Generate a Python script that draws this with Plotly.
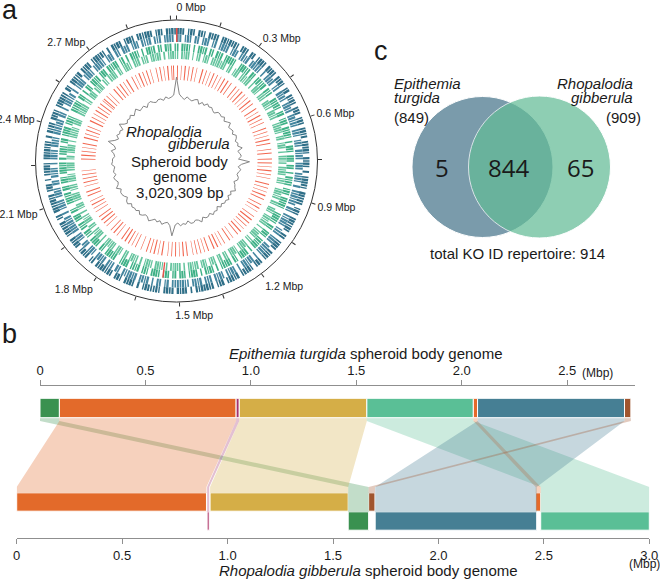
import plotly.graph_objects as go

W, H = 660, 579
def px(x): return x / W
def py(y): return 1 - y / H

# ---------------- DATA ----------------
GENOME_KBP = 3020.309
BIN_KBP = 10
# gene occupancy per 10-kbp bin (0-9 = tenths of bin covered), read/estimated from panel a
BLUE_OUTER = "".join([
    "8970596087", "5096870795", "9685079608", "7059860979", "6087950690",
    "8596078705", "9607958068", "7950869507", "0698750986", "8705960797",
    "5960870589", "7086950796", "0597860958", "8609750869", "7958060795",
    "9086970586", "6795080697", "8059706958", "9680750869", "5079680597",
    "8690570986", "7958069705", "0679850796", "9586070958", "6097850689",
    "8760950796", "5908697058", "9685070969", "7059860785", "8970596087", "96"])
BLUE_INNER = "".join([
    "7805960870", "6970580697", "8059706859", "0796850607", "9680570968",
    "5079680795", "8607950586", "0958706970", "7695080869", "5870960758",
    "9605870697", "0786950608", "8597060795", "7069580867", "0958706596",
    "8670950780", "6095870969", "7580690758", "0869705960", "8705960879",
    "6958070596", "8069750870", "9586060795", "7098650968", "5870960706",
    "9658070589", "7069850697", "8506970860", "9780596085", "6907580697", "80"])
GREEN_OUTER = "".join([
    "7096850607", "9580760958", "0697850069", "8570960785", "6908570096",
    "7850690587", "0968750609", "8507960870", "6095870596", "0786950068",
    "9750860795", "0685970608", "7960580796", "8507069580", "6079850697",
    "0860795068", "9705860957", "6089750086", "7960580697", "8056907580",
    "6970850069", "7580960785", "0697580906", "8750690587", "9068750096",
    "7850960708", "6079580697", "0865970580", "7096850607", "9580760958", "06"])
GREEN_INNER = "".join([
    "6085970506", "8059607869", "5970680597", "0685790608", "9507860795",
    "6089570068", "7950680597", "0608957086", "9705860069", "7580960795",
    "0695870506", "8970560798", "6058970680", "9607850596", "0875960708",
    "6958070569", "8067950807", "5960870596", "0785960608", "9570680795",
    "6080597068", "9705860697", "5086970580", "6978050696", "8507960085",
    "9680570697", "0859607508", "6970850697", "5086907580", "6959708067", "95"])
RED_TRACK = "".join([
    "5030604050", "3006040305", "0403050604", "0050306040", "3060400503",
    "0604030050", "4030605003", "0500406030", "6040300504", "0306050040",
    "5030040605", "0403060500", "3050040306", "0600503040", "4030050603",
    "0504030060", "3060405003", "0040305060", "5003060400", "3050604003",
    "0406030050", "6003050404", "0300000506", "0403050060", "4050300604",
    "0306040503", "5040300605", "0503060040", "3060405030", "0405030604", "50"])
RRNA_BLUE_MBP = [0.001]
RRNA_GREEN_MBP = [1.566]
# GC skew every 20 kbp (px offset from the baseline ring)
GC_SKEW = [21, 4, 1, -1, 2, 0, -1, 1, 2, -2,
           1, -1, 2, 0, 1, -1, -2, 1, 1, 0,
           2, -1, 1, 3, -1, 0, 1, -1, 2, 1,
           -1, 1, 0, 4, -1, 1, 2, -1, 10, 2,
           -1, 2, 0, -1, 1, 1, -2, 0, 1, 3,
           -1, 1, -1, 2, 0, 1, -1, 1, -2, 1,
           0, 2, -1, 1, 1, -1, 3, 0, -1, 1,
           1, -2, 1, 0, 2, -1, 1, 12, 2, -1,
           0, 2, -1, 1, -1, 1, 3, 0, -1, 1,
           2, -1, 1, 0, 1, -1, 2, 1, -2, 0,
           1, 1, -1, 3, 0, -1, 1, 2, -1, 1,
           0, -1, 2, 1, 1, -1, 0, 3, -1, 1,
           8, 2, -1, 2, 0, 1, -1, 5, 1, -1,
           1, 0, 2, -1, 1, 3, -1, 0, 1, -2,
           1, 2, 0, -1, 1, 1, -1, 2, 0, 1,
           3]
GC_STEP_MBP = 0.02
RING_TICKS_MBP = [round(k * 0.15, 2) for k in range(21)]
NB = "\u00a0"
RING_LABELS = [NB * 10 + "0 Mbp", "", "0.3 Mbp", "", "0.6 Mbp", "", "0.9 Mbp", "", "1.2 Mbp", "",
               NB * 10 + "1.5 Mbp", "", "1.8 Mbp", "", "2.1 Mbp", "", "2.4 Mbp", "", "2.7 Mbp", "", ""]

# panel b synteny blocks (Mbp)
TOP_START = [0.000, 0.092, 0.930, 0.945, 1.550, 2.055, 2.075, 2.772]
TOP_END = [0.092, 0.930, 0.945, 1.550, 2.055, 2.075, 2.772, 2.802]
BOT_START = [1.572, 0.000, 0.903, 0.917, 2.485, 2.461, 1.700, 1.669]
BOT_END = [1.669, 0.900, 0.913, 1.572, 3.000, 2.485, 2.466, 1.699]
BOT_ROW = [2, 1, 2, 1, 2, 1, 2, 1]
BLOCK_COLORS = ["#3a9150", "#e36a2a", "#a4336f", "#d5ae47", "#5abf96", "#e56a2a", "#467f94", "#a0552e"]
TOP_TICKS = [0, 0.5, 1.0, 1.5, 2.0, 2.5]
TOP_TICKTEXT = ["0", "0.5", "1.0", "1.5", "2.0", "2.5"]
BOT_TICKS = [0, 0.5, 1.0, 1.5, 2.0, 2.5, 3.0]
BOT_TICKTEXT = ["0", "0.5", "1.0", "1.5", "2.0", "2.5", "3.0"]

# Venn (KO IDs)
VENN_ET_ONLY, VENN_SHARED, VENN_RG_ONLY = 5, 844, 65
VENN_ET_TOTAL, VENN_RG_TOTAL, VENN_ALL = 849, 909, 914

# ---------------- FIGURE ----------------
fig = go.Figure()

def deg(mbp):
    return mbp * 1000.0 / GENOME_KBP * 360.0

def ring(s, r0, r1, color):
    th, wd = [], []
    for i, ch in enumerate(s):
        d = int(ch)
        if d == 0:
            continue
        th.append(deg((i + 0.5) * BIN_KBP / 1000))
        wd.append(deg(d / 10 * BIN_KBP / 1000))
    return go.Barpolar(theta=th, r=[r1 - r0] * len(th), base=[r0] * len(th), width=wd,
                       marker=dict(color=color, line=dict(width=0)),
                       hoverinfo="skip", showlegend=False)

fig.add_trace(ring(BLUE_OUTER, 126.5, 133, "#2f6f88"))
fig.add_trace(ring(BLUE_INNER, 119, 126.5, "#4587a0"))
fig.add_trace(ring(GREEN_OUTER, 110, 117.5, "#3fb187"))
fig.add_trace(ring(GREEN_INNER, 102, 110, "#64c49e"))
fig.add_trace(ring(RED_TRACK, 81, 95.5, "#f2664f"))
fig.add_trace(go.Barpolar(theta=[deg(p) for p in RRNA_BLUE_MBP], r=[14], base=[119],
                          width=[deg(0.006)], marker=dict(color="#e8504a", line=dict(width=0)),
                          hoverinfo="skip", showlegend=False))
fig.add_trace(go.Barpolar(theta=[deg(p) for p in RRNA_GREEN_MBP], r=[15.5], base=[102],
                          width=[deg(0.006)], marker=dict(color="#e8504a", line=dict(width=0)),
                          hoverinfo="skip", showlegend=False))
GC_BASE = 63
gc_theta = [deg(i * GC_STEP_MBP) for i in range(len(GC_SKEW))] + [360]
gc_r = [GC_BASE + v for v in GC_SKEW] + [GC_BASE + GC_SKEW[0]]
fig.add_trace(go.Scatterpolar(theta=gc_theta, r=gc_r, mode="lines",
                              line=dict(color="#858585", width=1),
                              hoverinfo="skip", showlegend=False))

# ---- panel b ----
PX_PER_MBP = 210.87
BOT_ORIGIN_PX, TOP_ORIGIN_PX = 16.7, 40.0
TOP_SHIFT = (TOP_ORIGIN_PX - BOT_ORIGIN_PX) / PX_PER_MBP
Y_TOP_BAR, Y_TOP_BOTTOM, Y_TOP_V = 408, 417.7, 421
Y_BOT_V = 487
ROW_CENTER = {1: 502, 2: 521}
ROW_TOP = {1: 492.8, 2: 511.8}

def rgba(hexc, a):
    h = hexc.lstrip("#")
    return f"rgba({int(h[0:2],16)},{int(h[2:4],16)},{int(h[4:6],16)},{a})"

for i in range(len(TOP_START)):
    a1, a2 = TOP_START[i] + TOP_SHIFT, TOP_END[i] + TOP_SHIFT
    b1, b2 = BOT_START[i], BOT_END[i]
    yb = ROW_TOP[BOT_ROW[i]]
    xs = [a1, a2, a2, b2, b2, b1, b1, a1, a1]
    ys = [Y_TOP_BOTTOM, Y_TOP_BOTTOM, Y_TOP_V, Y_BOT_V, yb, yb, Y_BOT_V, Y_TOP_V, Y_TOP_BOTTOM]
    fig.add_trace(go.Scatter(x=xs, y=ys, xaxis="x", yaxis="y", fill="toself",
                             fillcolor=rgba(BLOCK_COLORS[i], 0.31), mode="lines",
                             line=dict(width=0, color=rgba(BLOCK_COLORS[i], 0)),
                             hoverinfo="skip", showlegend=False))

fig.add_trace(go.Bar(orientation="h", xaxis="x2", yaxis="y",
                     base=TOP_START, x=[e - s for s, e in zip(TOP_START, TOP_END)],
                     y=[Y_TOP_BAR] * len(TOP_START), width=[19.4] * len(TOP_START),
                     marker=dict(color=BLOCK_COLORS, line=dict(color="white", width=1)),
                     hoverinfo="skip", showlegend=False))
bot_colors = list(BLOCK_COLORS)
bot_colors[2] = "#b23b6e"
fig.add_trace(go.Bar(orientation="h", xaxis="x", yaxis="y",
                     base=BOT_START, x=[e - s for s, e in zip(BOT_START, BOT_END)],
                     y=[ROW_CENTER[r] for r in BOT_ROW], width=[18.4] * len(BOT_START),
                     marker=dict(color=bot_colors, line=dict(color="white", width=1)),
                     hoverinfo="skip", showlegend=False))

AX_COL = "#8f8f8f"
TXT = "#1a1a1a"
FONT = "Liberation Sans, Arial, sans-serif"

fig.update_layout(
    width=W, height=H, margin=dict(l=0, r=0, t=0, b=0, autoexpand=False), autosize=False,
    paper_bgcolor="white", plot_bgcolor="rgba(0,0,0,0)",
    font=dict(family=FONT, color=TXT), barmode="overlay", showlegend=False,
    polar=dict(
        domain=dict(x=[px(35.5), px(317.5)], y=[py(302), py(20)]),
        bgcolor="rgba(0,0,0,0)", barmode="overlay", hole=0,
        radialaxis=dict(visible=False, range=[0, 141]),
        angularaxis=dict(rotation=90, direction="clockwise", tickmode="array",
                         tickvals=[deg(t) for t in RING_TICKS_MBP], ticktext=RING_LABELS,
                         ticks="outside", ticklen=4, tickcolor="#333", tickwidth=1,
                         showline=True, linecolor="#333", linewidth=1, showgrid=False,
                         tickfont=dict(size=10.5, color=TXT, family=FONT)),
    ),
    xaxis=dict(domain=[px(BOT_ORIGIN_PX), px(BOT_ORIGIN_PX + 3.0 * PX_PER_MBP)], range=[0, 3.0],
               anchor="y", side="bottom", showline=True, linecolor=AX_COL, linewidth=1,
               ticks="outside", ticklen=5, tickcolor=AX_COL, tickmode="array",
               tickvals=BOT_TICKS, ticktext=BOT_TICKTEXT, showgrid=False, zeroline=False,
               tickfont=dict(size=13, color=TXT), automargin=False),
    xaxis2=dict(domain=[px(TOP_ORIGIN_PX), px(TOP_ORIGIN_PX + 2.823 * PX_PER_MBP)], range=[0, 2.823],
                anchor="y", side="top", showline=True, linecolor=AX_COL, linewidth=1,
                ticks="outside", ticklen=5, tickcolor=AX_COL, tickmode="array",
                tickvals=TOP_TICKS, ticktext=TOP_TICKTEXT, showgrid=False, zeroline=False,
                tickfont=dict(size=13, color=TXT), automargin=False),
    yaxis=dict(domain=[py(538.3), py(386)], range=[538.3, 386], visible=False),
)

# ---- Venn (panel c) ----
L_COL = "#7a9bab"
R_COL = "#63bc97"
def circ(cx, cy, r, fill, op):
    return dict(type="circle", xref="paper", yref="paper",
                x0=px(cx - r), x1=px(cx + r), y0=py(cy + r), y1=py(cy - r),
                fillcolor=fill, opacity=op, line=dict(color="white", width=1), layer="above")
fig.add_shape(**circ(482.5, 167, 70.5, L_COL, 1.0))
fig.add_shape(**circ(539.5, 167, 71, R_COL, 0.72))

def ann(text, x, y, size=15, xa="center", ya="middle", color=TXT, family=FONT):
    fig.add_annotation(text=text, x=px(x), y=py(y), xref="paper", yref="paper",
                       xanchor=xa, yanchor=ya, showarrow=False,
                       font=dict(size=size, color=color, family=family))

# panel letters
ann("a", 0, 10, size=27, xa="left")
ann("b", 0, 334, size=27, xa="left")
ann("c", 372, 51, size=27, xa="left")

# ring centre text
ann("<i>Rhopalodia</i>", 164, 131)
ann("<i>gibberula</i>", 199, 143)
ann("Spheroid body", 179, 161)
ann("genome", 180, 176)
ann(f"{GENOME_KBP*1000:,.0f} bp", 180, 193)

# venn text
VFONT = "Open Sans, Noto Sans, sans-serif"
ann(str(VENN_ET_ONLY), 441.7, 167, size=24, family=VFONT)
ann(str(VENN_SHARED), 508.3, 167, size=24, family=VFONT)
ann(str(VENN_RG_ONLY), 580.7, 167, size=24, family=VFONT)
ann("<i>Epithemia</i>", 392, 83, xa="left")
ann("<i>turgida</i>", 392, 98, xa="left")
ann(f"({VENN_ET_TOTAL})", 392, 117, xa="left")
ann("<i>Rhopalodia</i>", 635, 83, xa="right")
ann("<i>gibberula</i>", 635, 98, xa="right")
ann(f"({VENN_RG_TOTAL})", 643, 117, xa="right")
ann(f"total KO ID repertoire: {VENN_ALL}", 517, 253)

# panel b titles
ann("<i>Epithemia turgida</i> spheroid body genome", 366, 353)
ann("<i>Rhopalodia gibberula</i> spheroid body genome", 368.5, 570)
ann("(Mbp)", 597.5, 373, size=12)
ann("(Mbp)", 644, 564, size=12)

fig.write_html("out.html", config={"displayModeBar": False},
               post_script="document.body.style.margin='0px';document.body.style.overflow='hidden';")
